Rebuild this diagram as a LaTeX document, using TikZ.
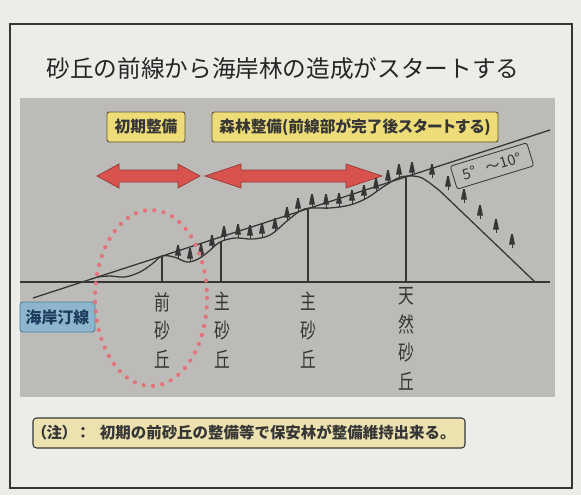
\documentclass[tikz,border=0pt]{standalone}
\usepackage{fontspec}
\setmainfont{Noto Sans CJK JP}
\newfontfamily\paltfont[RawFeature=+palt]{Noto Sans CJK JP}

\definecolor{pagebg}{HTML}{ECECE9}
\definecolor{panel}{HTML}{BDBBB8}
\definecolor{ink}{HTML}{363636}
\definecolor{tagyellow}{HTML}{EDDC78}
\definecolor{tagedge}{HTML}{5A5535}
\definecolor{notefill}{HTML}{ECE2AF}
\definecolor{arrowred}{HTML}{D9534E}
\definecolor{arrowedge}{HTML}{963834}
\definecolor{dotred}{HTML}{E2737A}
\definecolor{shorefill}{HTML}{8DB6CE}
\definecolor{shoreedge}{HTML}{4F7F99}
\definecolor{shoretext}{HTML}{1E3C5E}

% double-headed block arrow: left x, right x, centre y, head length
\newcommand{\dblarrow}[4]{%
  \filldraw[redarrow] (#1,#3) -- (#1+#4,#3-12) -- (#1+#4,#3-6) -- (#2-#4,#3-6)
    -- (#2-#4,#3-12) -- (#2,#3) -- (#2-#4,#3+12) -- (#2-#4,#3+6)
    -- (#1+#4,#3+6) -- (#1+#4,#3+12) -- cycle;}

\tikzset{
  tag/.style={draw=tagedge, fill=tagyellow, rounded corners=2pt, line width=0.8pt,
    font=\paltfont\bfseries\fontsize{13.4}{16}\selectfont, text=ink,
    minimum height=0.9cm, inner sep=0pt},
  dunelabel/.style={font=\fontsize{18}{24.6}\selectfont, align=center, xscale=0.75,
    text=ink, anchor=north, inner sep=0pt},
  ground/.style={draw=ink, line width=1.1pt, line join=round},
  redarrow/.style={fill=arrowred, draw=arrowedge, line width=0.6pt, line join=miter},
  dotring/.style={draw=dotred, line width=3.6pt, line cap=round, dash pattern=on 0pt off 8pt},
  pinetree/.pic={
    \draw[ink, line width=0.8pt] (0,0) -- (0,-13);
    \fill[ink] (-3,-3.5) -- (-0.8,-14) -- (0.8,-14) -- (3,-3.5) -- cycle;
  }
}

\begin{document}
\begin{tikzpicture}[x=0.03cm, y=-0.03cm]
\useasboundingbox (0,0) rectangle (581,495);
\fill[pagebg] (0,0) rectangle (581,495);

% outer frame and grey panel
\draw[ink, line width=1.6pt] (10,24) rectangle (572,488);
\fill[panel] (20,98) rectangle (555,397);

% title
\node[font=\fontsize{20.2}{24}\selectfont, text=black!85, inner sep=0pt] (title) at (283,69)
  {砂丘の前線から海岸林の造成がスタートする};

% work stages
\node[tag, minimum width=2.34cm] (tagA) at (146,127) {初期整備};
\node[tag, minimum width=8.58cm] (tagB) at (355,127) {森林整備(前線部が完了後スタートする)};

\dblarrow{97}{200}{176}{22}
\dblarrow{205}{382}{176}{36}

% sea level and dune profile
\draw[ground] (20,282) -- (550,282);
\draw[ground] (33,298) -- (550,130);
\draw[ground] plot[smooth, tension=0.55] coordinates {
  (97,277) (110,276) (125,277) (140,272) (152,264) (162,256) (174,257) (187,262)
  (198,259) (208,252) (220,242) (235,238) (253,239) (270,235) (287,221) (300,211)
  (310,208) (330,208) (350,205) (367,198) (383,187) (398,178) (408,176) (422,178)
  (440,191)} -- (535,282);

% dune crests
\draw[ground] (162,256) -- (162,282);
\draw[ground] (221,241) -- (221,282);
\draw[ground] (308,208) -- (308,282);
\draw[ground] (406,176) -- (406,282);

% planted trees
\foreach \tx/\ty in {178/259, 190/262, 201/258, 212/249, 224/240, 238/238, 250/239,
  262/237, 275/232, 287/221, 298/212, 312/208, 326/208, 339/207, 352/204, 364/199,
  376/192, 388/184, 399/178, 412/176, 432/178, 448/190, 464/203, 480/219, 496/233, 512/248}
  \pic at (\tx,\ty) {pinetree};

% slope note
\node[draw=ink, rounded corners=2pt, rotate=17, line width=0.7pt, minimum width=2.4cm,
  minimum height=0.72cm, inner sep=0pt, font=\fontsize{12.5}{15}\selectfont, text=ink]
  (slope) at (492,166) {5°\hspace{9pt}～10°};

% dune names
\node[dunelabel] (lblFront)   at (162,292) {前\\砂\\丘};
\node[dunelabel] (lblMainA)   at (222,292) {主\\砂\\丘};
\node[dunelabel] (lblMainB)   at (308,292) {主\\砂\\丘};
\node[dunelabel] (lblNatural) at (406,287) {天\\然\\砂\\丘};

% shoreline tag
\node[draw=shoreedge, fill=shorefill, rounded corners=2.5pt, line width=0.8pt,
  minimum width=2.25cm, minimum height=0.9cm, inner sep=0pt, text=shoretext,
  font=\bfseries\fontsize{13.6}{16}\selectfont] (shore) at (57.5,317) {海岸汀線};

% front dune highlight
\draw[dotring] (151,298) ellipse [x radius=56, y radius=88];

% footnote
\node[draw=ink, fill=notefill, rounded corners=3pt, line width=0.9pt,
  minimum width=12.96cm, minimum height=0.9cm, inner sep=0pt, text=ink,
  font=\bfseries\fontsize{13.2}{16}\selectfont] (note) at (249,433)
  {\makebox[12.6cm][l]{\makebox[52pt][l]{\paltfont（注）\hspace{8pt}：}初期の前砂丘の整備等で保安林が整備維持出来る。}};
\end{tikzpicture}
\end{document}
